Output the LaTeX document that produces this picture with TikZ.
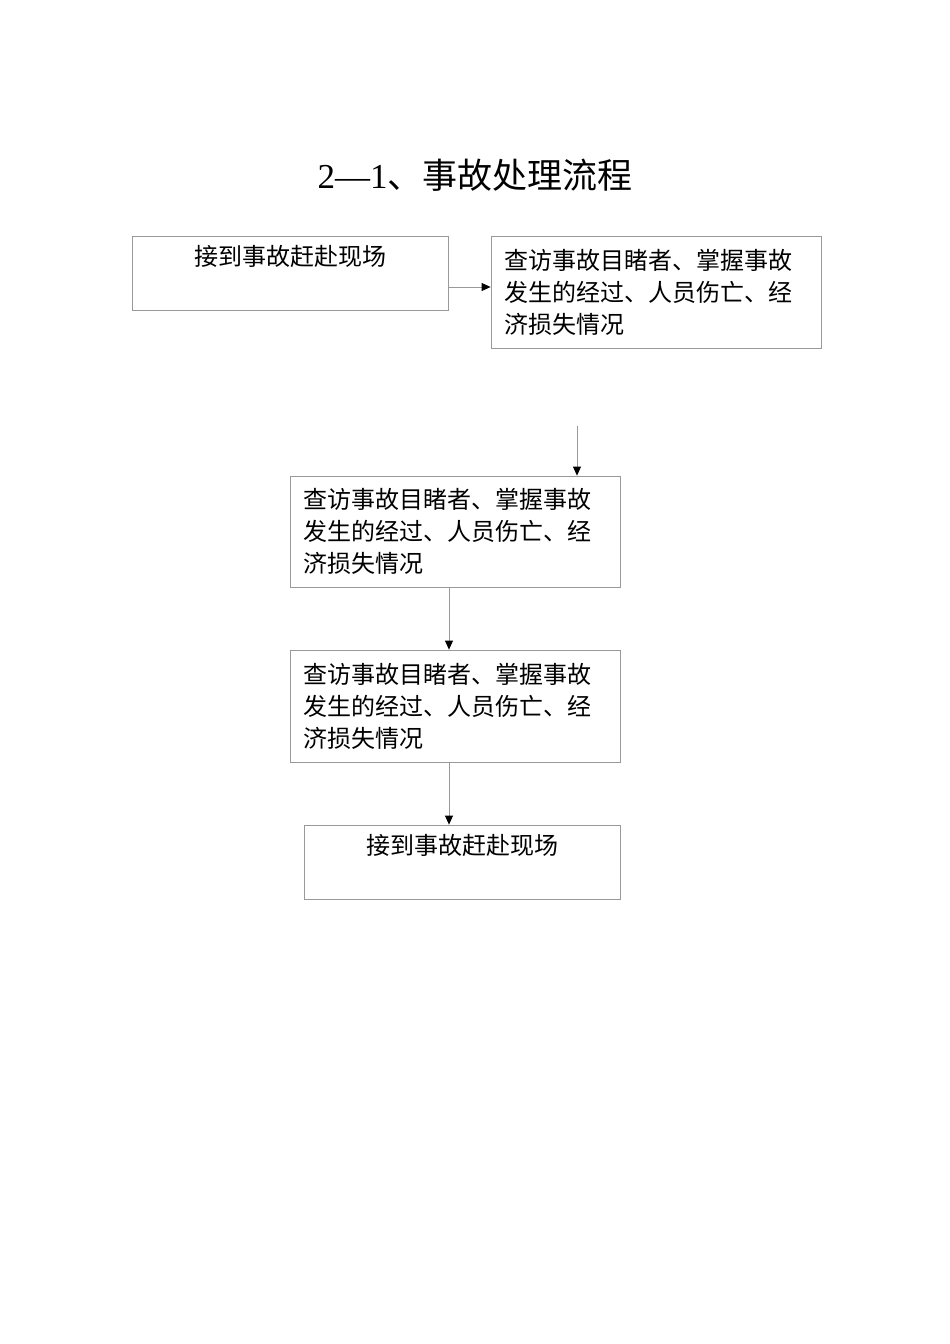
\documentclass[tikz,border=0pt]{standalone}
\usepackage{fontspec}
\setmainfont{Liberation Serif}
\newfontfamily\cjk{Noto Sans CJK SC}
\usepackage{tikz}
\usetikzlibrary{arrows.meta,positioning}

\begin{document}
\begin{tikzpicture}[x=1pt,y=-1pt]
		\tikzstyle{box}=[draw=black!40, line width=0.8pt, minimum width=330pt, minimum height=112pt, inner xsep=13pt, text width=304pt, align=left, font=\cjk\fontsize{24}{32}\selectfont]
		\tikzstyle{onebox}=[draw=black!40, line width=0.8pt, minimum width=316pt, inner sep=5pt, text height=24pt, text depth=40pt, align=center, font=\cjk\fontsize{24}{32}\selectfont]
		\tikzstyle{arrow}=[draw=black!40, line width=0.8pt, -{Triangle[length=9pt,width=8pt,color=black]}]
		\tikzstyle{title}=[font=\fontsize{35}{40}\selectfont]

		\useasboundingbox (0,0) rectangle (950,1344);

		\node [title] (title) at (475,175) {2—1{\cjk 、事故处理流程}};

		% first row
		\node [onebox] (arrive) at (290,273) {接到事故赶赴现场};
		\node [box] (visit1) at (656,292) {查访事故目睹者、掌握事故\\发生的经过、人员伤亡、经\\济损失情况};

		% column
		\node [box, minimum height=111pt] (visit2) at (455,531.5) {查访事故目睹者、掌握事故\\发生的经过、人员伤亡、经\\济损失情况};
		\node [box] (visit3) at (455,706) {查访事故目睹者、掌握事故\\发生的经过、人员伤亡、经\\济损失情况};
		\node [onebox] (arrive2) at (462,862) {接到事故赶赴现场};

		\coordinate (loose) at (577,426);

		\draw [arrow] ([yshift=-14pt]arrive.east) -- ([yshift=-14pt]arrive.east -| visit1.west);
		\draw [arrow] (loose) -- (loose |- visit2.north);
		\draw [arrow] ([xshift=-6pt]visit2.south) -- ([xshift=-6pt]visit3.north);
		\draw [arrow] ([xshift=-6pt]visit3.south) -- ([xshift=-6pt]visit3.south |- arrive2.north);

	\end{tikzpicture}
\end{document}
